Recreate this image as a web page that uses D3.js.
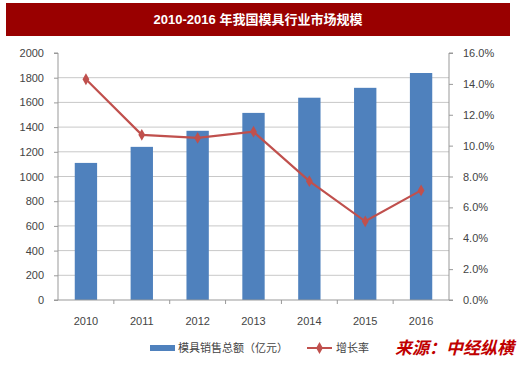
<!DOCTYPE html>
<html>
<head>
<meta charset="utf-8">
<script src="https://cdn.jsdelivr.net/npm/d3@7"></script>
<style>
  body { margin: 0; background: #fff; }
  svg { font-family: "Liberation Sans", Arial, "Noto Sans CJK SC", sans-serif; }
  .axis text { fill: #444; font-size: 11px; }
  .axis path, .axis line { stroke: #999; }
</style>
</head>
<body>
<svg id="chart" width="519" height="370"></svg>
<script>
var years = ["2010", "2011", "2012", "2013", "2014", "2015", "2016"];
var sales = [1110, 1240, 1370, 1515, 1638, 1718, 1838];   // 模具销售总额（亿元）
var growth = [14.3, 10.7, 10.5, 10.9, 7.7, 5.1, 7.1];     // 增长率 %
var leftTicks = [0, 200, 400, 600, 800, 1000, 1200, 1400, 1600, 1800, 2000];
var rightTicks = [0, 2, 4, 6, 8, 10, 12, 14, 16];

var svg = d3.select("#chart"),
    margin = {top: 53, right: 70, bottom: 70, left: 58},
    width = 519 - margin.left - margin.right,
    height = 370 - margin.top - margin.bottom;

// title band
svg.append("rect")
  .attr("x", 6).attr("y", 3)
  .attr("width", 504).attr("height", 33)
  .attr("fill", "#990000");
svg.append("text")
  .attr("x", 258).attr("y", 24)
  .attr("text-anchor", "middle")
  .attr("fill", "#fff")
  .attr("font-size", "13px")
  .attr("font-weight", "bold")
  .text("2010-2016  年我国模具行业市场规模");

var g = svg.append("g")
  .attr("transform", "translate(" + margin.left + "," + margin.top + ")");

var x = d3.scaleBand().domain(years).range([0, width]).paddingInner(0.6).paddingOuter(0.3);
var xb = d3.scaleBand().domain(years).range([0, width]);
var y = d3.scaleLinear().domain([0, 2000]).range([height, 0]);
var y2 = d3.scaleLinear().domain([0, 16]).range([height, 0]);

// gridlines
g.append("g").selectAll("line")
  .data(leftTicks.slice(1, -1))
  .join("line")
  .attr("x1", 0).attr("x2", width)
  .attr("y1", function(d) { return y(d); })
  .attr("y2", function(d) { return y(d); })
  .attr("stroke", "#c8c8c8");

// bars
g.append("g").selectAll("rect")
  .data(sales)
  .join("rect")
  .attr("x", function(d, i) { return x(years[i]); })
  .attr("width", x.bandwidth())
  .attr("y", function(d) { return y(d); })
  .attr("height", function(d) { return height - y(d); })
  .attr("fill", "#4f81bd");

// axes
var yAxis = d3.axisLeft(y).tickValues(leftTicks).tickSize(4).tickPadding(10)
  .tickFormat(d3.format("d"));
g.append("g").attr("class", "axis").call(yAxis)
  .call(function(s) { s.select(".domain").attr("d", "M-4,0H0V" + height + "H-4"); });

var yAxis2 = d3.axisRight(y2).tickValues(rightTicks).tickSize(4).tickPadding(10)
  .tickFormat(function(d) { return d.toFixed(1) + "%"; });
g.append("g").attr("class", "axis")
  .attr("transform", "translate(" + width + ",0)")
  .call(yAxis2)
  .call(function(s) { s.select(".domain").attr("d", "M4,0H0V" + height + "H4"); });

var xAxisG = g.append("g").attr("class", "axis")
  .attr("transform", "translate(0," + height + ")");
xAxisG.append("line").attr("x1", 0).attr("x2", width).attr("stroke", "#999");
xAxisG.selectAll(".tk")
  .data(years.slice(1))
  .join("line")
  .attr("x1", function(d) { return xb(d); })
  .attr("x2", function(d) { return xb(d); })
  .attr("y1", 0).attr("y2", 4)
  .attr("stroke", "#999");
xAxisG.selectAll("text")
  .data(years)
  .join("text")
  .attr("x", function(d) { return xb(d) + xb.bandwidth() / 2; })
  .attr("y", 25)
  .attr("text-anchor", "middle")
  .text(function(d) { return d; });

// growth line
var line = d3.line()
  .x(function(d, i) { return xb(years[i]) + xb.bandwidth() / 2; })
  .y(function(d) { return y2(d); });

g.append("path")
  .datum(growth)
  .attr("d", line)
  .attr("fill", "none")
  .attr("stroke", "#c0504d")
  .attr("stroke-width", 2.2);

var diamond = d3.symbol().type(d3.symbolDiamond).size(40);
g.append("g").selectAll("path")
  .data(growth)
  .join("path")
  .attr("d", diamond)
  .attr("transform", function(d, i) {
    return "translate(" + (xb(years[i]) + xb.bandwidth() / 2) + "," + y2(d) + ")";
  })
  .attr("fill", "#c0504d");

// legend
var lg = svg.append("g").attr("transform", "translate(0,348)");
lg.append("rect").attr("x", 150).attr("y", -3).attr("width", 25).attr("height", 6).attr("fill", "#4f81bd");
lg.append("text").attr("x", 178).attr("y", 4).attr("font-size", "11px").attr("fill", "#444")
  .text("模具销售总额（亿元）");
lg.append("line").attr("x1", 307).attr("x2", 332).attr("stroke", "#c0504d").attr("stroke-width", 2);
lg.append("path").attr("d", diamond).attr("transform", "translate(319.5,0)").attr("fill", "#c0504d");
lg.append("text").attr("x", 336).attr("y", 4).attr("font-size", "11px").attr("fill", "#444")
  .text("增长率");
lg.append("text").attr("x", 514).attr("y", 6)
  .attr("text-anchor", "end")
  .attr("font-size", "17px").attr("font-weight", "bold").attr("font-style", "italic")
  .attr("fill", "#c00000")
  .text("来源：中经纵横");
</script>
</body>
</html>
